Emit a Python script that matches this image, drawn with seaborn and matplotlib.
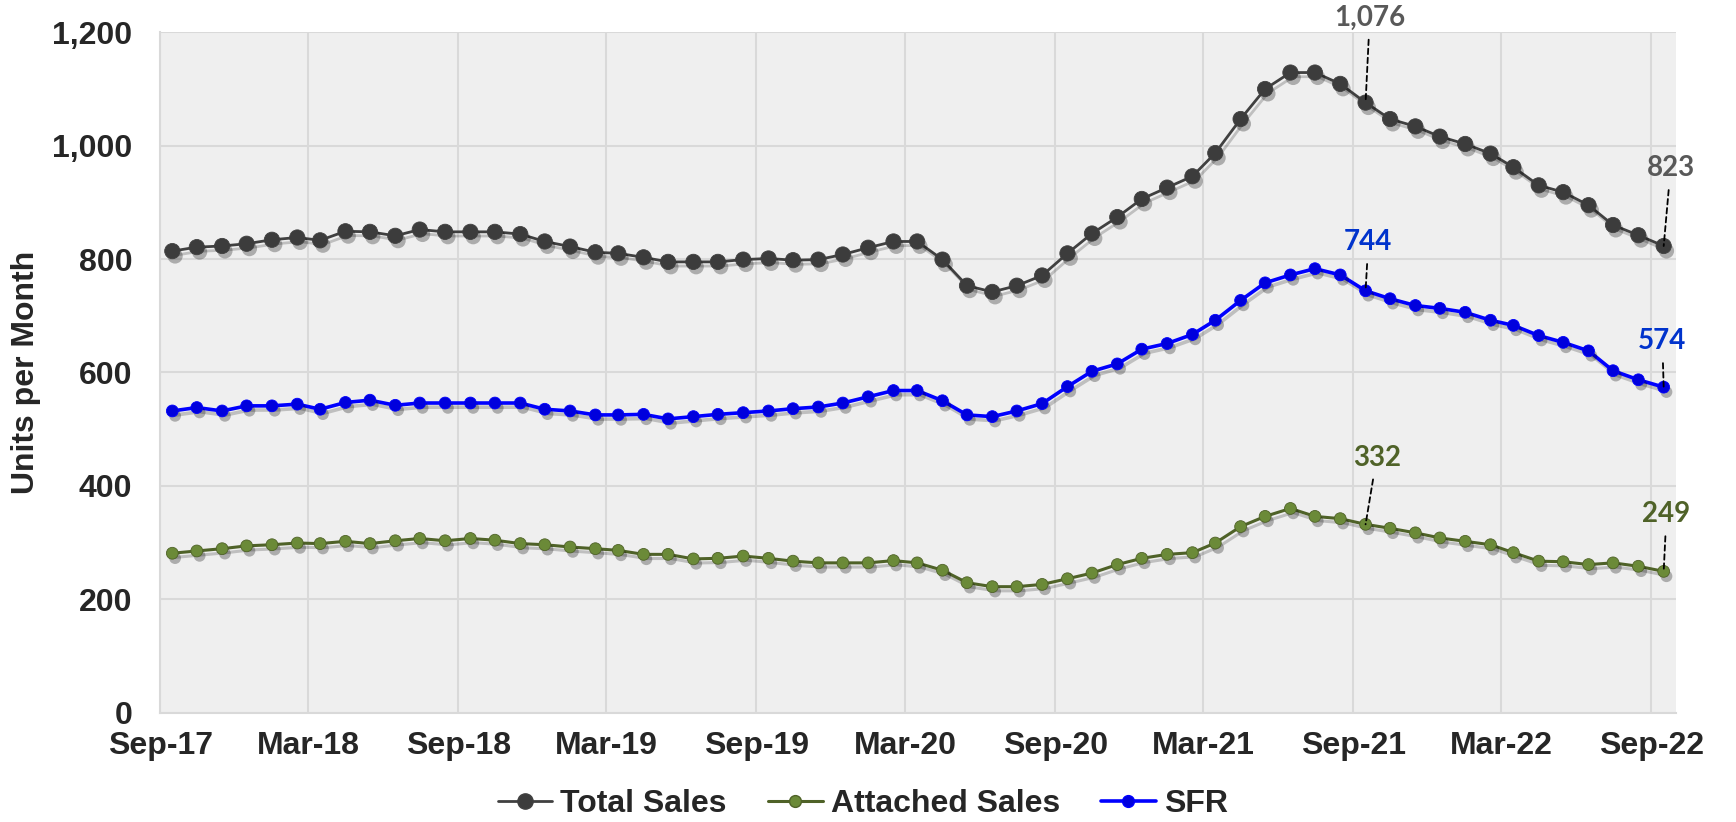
# Monthly sales chart: Total Sales / Attached Sales / SFR, Sep-17 to Sep-22

import numpy as np
import pandas as pd
import matplotlib
matplotlib.use("Agg")
import matplotlib.pyplot as plt
import matplotlib.patheffects as pe
from matplotlib.lines import Line2D
import seaborn as sns

# ---------------------------------------------------
# Data
# ---------------------------------------------------

months = pd.date_range("2017-09-01", "2022-09-01", freq="MS")

total_sales = [814, 821, 823, 827, 834, 838, 833, 849, 848, 841,
               852, 848, 848, 848, 844, 831, 822, 812, 810, 803,
               795, 795, 795, 799, 801, 798, 799, 808, 820, 831,
               831, 799, 753, 742, 753, 771, 810, 845, 874, 906,
               926, 946, 987, 1047, 1100, 1129, 1129, 1109, 1076, 1047,
               1034, 1016, 1003, 986, 962, 930, 918, 895, 860, 842,
               823]

attached_sales = [281, 285, 289, 294, 296, 299, 298, 302, 298, 303,
                  307, 303, 307, 304, 298, 296, 292, 289, 286, 279,
                  279, 271, 272, 276, 272, 267, 264, 264, 264, 268,
                  264, 251, 229, 222, 222, 226, 236, 246, 261, 272,
                  279, 282, 299, 328, 346, 360, 346, 342, 332, 325,
                  317, 308, 302, 296, 282, 267, 266, 261, 264, 258,
                  249]

sfr = [532, 538, 532, 541, 541, 544, 535, 547, 551, 542,
       546, 546, 546, 546, 546, 535, 532, 525, 525, 526,
       518, 522, 526, 529, 532, 536, 539, 546, 557, 568,
       568, 550, 525, 522, 532, 545, 575, 602, 615, 641,
       651, 667, 692, 727, 758, 772, 783, 772, 744, 730,
       718, 713, 706, 692, 683, 665, 653, 638, 603, 587,
       574]

series_names = ["Total Sales", "Attached Sales", "SFR"]
tick_labels = ["Sep-17", "Mar-18", "Sep-18", "Mar-19", "Sep-19", "Mar-20",
               "Sep-20", "Mar-21", "Sep-21", "Mar-22", "Sep-22"]
y_ticks = [0, 200, 400, 600, 800, 1000, 1200]

# ---------------------------------------------------
# Style
# ---------------------------------------------------

sns.set_theme(style="whitegrid", rc={
    "axes.facecolor": "#EFEFEF",
    "grid.color": "#D9D9D9",
    "grid.linewidth": 1.5,
})
plt.rcParams["font.family"] = ["Liberation Sans", "DejaVu Sans"]

styles = {
    "Total Sales":    dict(line="#404040", face="#3C3C3C", text="#595959", lw=2.0, ms=11.0),
    "Attached Sales": dict(line="#4F6228", face="#6B8A38", text="#4F6228", lw=2.2, ms=8.5),
    "SFR":            dict(line="#0000FF", face="#0000DD", text="#0033CC", lw=2.6, ms=8.5),
}
values = {"Total Sales": total_sales, "Attached Sales": attached_sales, "SFR": sfr}

# points sit in the middle of each month on the date axis
dates = months + pd.Timedelta(days=15)

fig = plt.figure(figsize=(17.36, 8.22), dpi=100)
ax = fig.add_axes([0.0922, 0.1332, 0.8732, 0.8275])

for name in series_names:
    st = styles[name]
    sns.lineplot(x=dates, y=values[name], ax=ax, color=st["line"],
                 linewidth=st["lw"], zorder=2)
    ax.lines[-1].set_path_effects([
        pe.SimpleLineShadow(offset=(2, -3), shadow_color="black", alpha=0.2),
        pe.Normal()])
    sns.scatterplot(x=dates, y=values[name], ax=ax, s=st["ms"] ** 2,
                    color=st["face"], edgecolor=st["line"], linewidth=0.6,
                    zorder=3, legend=False)
    ax.collections[-1].set_path_effects([
        pe.SimplePatchShadow(offset=(2, -3.5), shadow_rgbFace="black", alpha=0.28),
        pe.Normal()])

# ---------------------------------------------------
# Axes
# ---------------------------------------------------

ax.set_xlim(pd.Timestamp("2017-09-01"), pd.Timestamp("2022-10-01"))
ax.set_ylim(0, 1200)
tick_dates = pd.date_range("2017-09-01", "2022-09-01", freq="6MS")
ax.set_xticks(tick_dates)
ax.set_xticklabels(tick_labels, fontsize=23, fontweight="bold")
ax.set_yticks(y_ticks)
ax.set_yticklabels([f"{v:,}" for v in y_ticks], fontsize=23, fontweight="bold")
ax.tick_params(axis="x", length=0, pad=13)
ax.tick_params(axis="y", length=0, pad=20)
ax.grid(True, color="#D9D9D9", linewidth=1.5)
for side in ["top", "right"]:
    ax.spines[side].set_visible(False)
for side in ["left", "bottom"]:
    ax.spines[side].set_color("#D9D9D9")
    ax.spines[side].set_linewidth(1.5)
ax.set_xlabel("")
ax.set_ylabel("Units per Month", fontsize=23, fontweight="bold", labelpad=8)

# ---------------------------------------------------
# Data labels with dashed leaders
# ---------------------------------------------------

label_offsets = {
    ("Total Sales", 48): (3, 61), ("Total Sales", 60): (5, 56),
    ("SFR", 48): (2, 35), ("SFR", 60): (-1, 33),
    ("Attached Sales", 48): (8, 48), ("Attached Sales", 60): (2, 41),
}
for (name, i), (dx, dy) in label_offsets.items():
    v = values[name][i]
    ax.annotate(f"{v:,}", xy=(dates[i], v), xytext=(dx, dy),
                textcoords="offset points", ha="center", va="center",
                fontsize=20, fontweight="bold", family=["Lato", "DejaVu Sans"],
                color=styles[name]["text"], annotation_clip=False,
                arrowprops=dict(arrowstyle="-", linestyle=(0, (3, 2)),
                                color="black", lw=1.3, shrinkA=4, shrinkB=0),
                zorder=5)

# ---------------------------------------------------
# Legend
# ---------------------------------------------------

handles = [Line2D([0], [0], color=styles[n]["line"], lw=styles[n]["lw"],
                  marker="o", markersize=styles[n]["ms"],
                  markerfacecolor=styles[n]["face"],
                  markeredgecolor=styles[n]["line"]) for n in series_names]
leg = fig.legend(handles, series_names, loc="center", bbox_to_anchor=(0.497, 0.022),
                 ncol=3, frameon=False, handlelength=1.7, handletextpad=0.25,
                 columnspacing=1.3, prop={"size": 23, "weight": "bold"})

fig.savefig("out.png", dpi=100)
